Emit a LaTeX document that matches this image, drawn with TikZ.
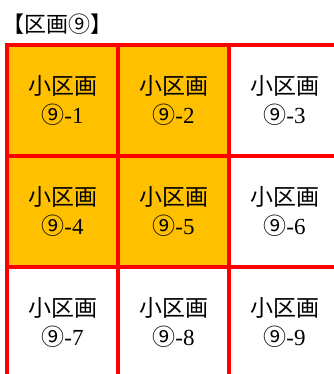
\documentclass[tikz,border=0pt]{standalone}
\usepackage{fontspec}
\setmainfont{Liberation Serif}
\newfontfamily\cjk{Noto Sans CJK JP}
\usetikzlibrary{positioning}
\definecolor{kuorange}{HTML}{FFC000}

\begin{document}
\begin{tikzpicture}[x=1pt,y=-1pt]
      \useasboundingbox (0,0) rectangle (333,374);
      \node (title) [anchor=west,inner sep=0pt,font=\fontsize{22}{22}\selectfont\cjk] at (2,24.5) {【区画⑨】};
      \begin{scope}[every node/.style={rectangle,draw=red,line width=4pt,
          minimum width=111pt,minimum height=111pt,inner sep=0pt,outer sep=0pt,
          align=center,font=\fontsize{23}{29}\selectfont}]
        \node (c1)[fill=kuorange] at (62.5,100.5) {{\cjk 小区画}\\{\cjk ⑨}-1};
        \node (c2)[fill=kuorange] [right=0pt of c1] {{\cjk 小区画}\\{\cjk ⑨}-2};
        \node (c3) [right=0pt of c2] {{\cjk 小区画}\\{\cjk ⑨}-3};
        \node (c4)[fill=kuorange] [below=0pt of c1] {{\cjk 小区画}\\{\cjk ⑨}-4};
        \node (c5)[fill=kuorange] [right=0pt of c4] {{\cjk 小区画}\\{\cjk ⑨}-5};
        \node (c6) [right=0pt of c5] {{\cjk 小区画}\\{\cjk ⑨}-6};
        \node (c7) [below=0pt of c4] {{\cjk 小区画}\\{\cjk ⑨}-7};
        \node (c8) [right=0pt of c7] {{\cjk 小区画}\\{\cjk ⑨}-8};
        \node (c9) [right=0pt of c8] {{\cjk 小区画}\\{\cjk ⑨}-9};
      \end{scope}
    \end{tikzpicture}
\end{document}
